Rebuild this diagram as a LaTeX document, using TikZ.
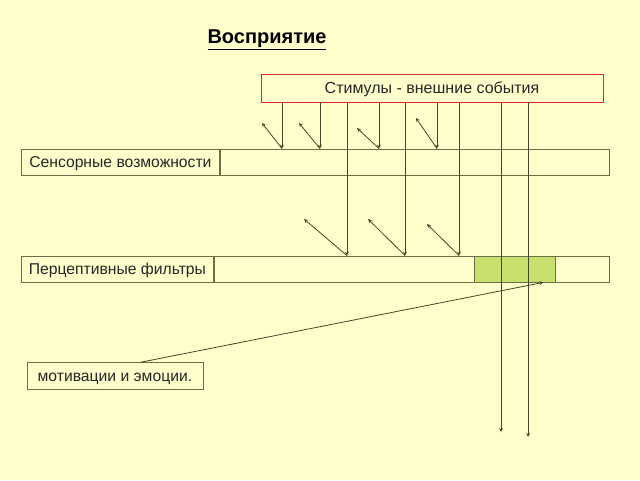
\documentclass[tikz,border=0pt]{standalone}
\usepackage{fontspec}
\setmainfont{Liberation Sans}
\usepackage{tikz}
\usetikzlibrary{arrows,positioning}
\definecolor{pgbg}{RGB}{255,255,204}
\definecolor{pgline}{RGB}{70,70,40}
\definecolor{pgframe}{RGB}{110,110,70}
\definecolor{pgred}{RGB}{220,40,40}
\definecolor{pggreen}{RGB}{200,225,110}
\tikzstyle{label} = [rectangle, draw=pgframe, thick, minimum height=26pt, inner sep=0pt, text height=11.2pt, text depth=0pt, font=\fontsize{15.7}{18}\selectfont, text=black!85]
\tikzstyle{bar} = [rectangle, draw=pgframe, thick, minimum height=26pt, inner sep=0pt]
\tikzstyle{ray} = [line width=0.8pt,->,>=stealth,color=pgline]

\begin{document}
\begin{tikzpicture}[x=1pt,y=-1pt]
\fill[pgbg] (0,0) rectangle (640,480);
\useasboundingbox (0,0) rectangle (640,480);

% Title
\node (title) at (267,40) {\fontsize{20}{22}\selectfont\bfseries\underline{Восприятие}};

% Layers
\node (stim) [label, draw=pgred, minimum width=342pt, minimum height=28pt, font=\fontsize{16}{18}\selectfont] at (432,88) {Стимулы - внешние события};
\node (sens) [label, minimum width=198pt, anchor=west] at (21,162) {Сенсорные возможности};
\node (sensrest) [bar, minimum width=389pt, right=0pt of sens] {};
\node (perc) [label, minimum width=192pt, anchor=west] at (21,269) {Перцептивные фильтры};
\node (percrest) [bar, minimum width=395pt, right=0pt of perc] {};
\node (filt) [bar, fill=pggreen, minimum width=81pt, anchor=west] at (474,269) {};
\node (motiv) [label, minimum width=176pt, minimum height=27pt, anchor=north west] at (26.5,362.3) {мотивации и эмоции.};

% Stimuli stopped at the senses
\foreach \n/\x/\rx/\ry in {1/282/262/123, 2/320/299/123, 3/379/357/128, 4/437/416/118}{
  \coordinate (c\n) at (\x,0);
  \coordinate (r\n) at (\rx,\ry);
  \draw[ray] (stim.south -| c\n) -- (sensrest.north -| c\n);
  \draw[ray] (sensrest.north -| c\n) -- (r\n);
}

% Stimuli stopped by the filters
\foreach \n/\x/\rx/\ry in {5/347/304/219, 6/405/368/219, 7/459/427/224}{
  \coordinate (c\n) at (\x,0);
  \coordinate (r\n) at (\rx,\ry);
  \draw[ray] (stim.south -| c\n) -- (percrest.north -| c\n);
  \draw[ray] (percrest.north -| c\n) -- (r\n);
}

% Stimuli passing through
\coordinate (out1) at (501,432);
\coordinate (out2) at (528,437);
\draw[ray] (stim.south -| out1) -- (out1);
\draw[ray] (stim.south -| out2) -- (out2);

% Motivation sets the filter
\draw[ray] ([xshift=25.5pt]motiv.north) -- ([xshift=28.5pt]filt.south);
\end{tikzpicture}
\end{document}
